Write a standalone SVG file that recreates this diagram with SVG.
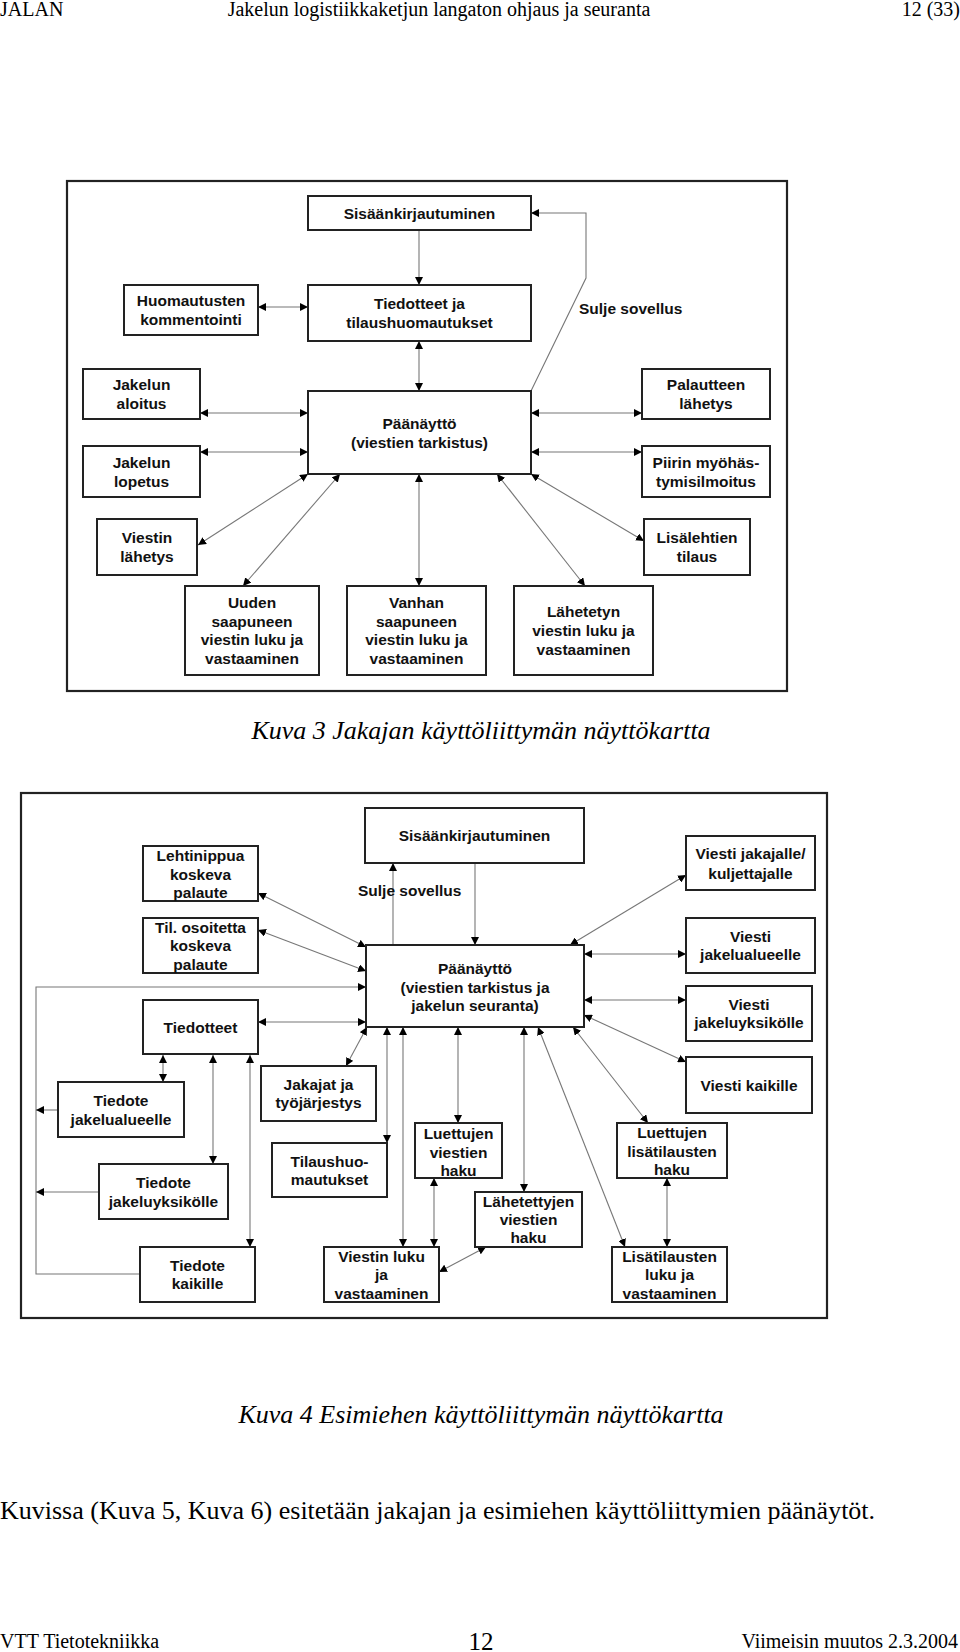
<svg xmlns="http://www.w3.org/2000/svg" width="960" height="1652" viewBox="0 0 960 1652">
<defs>
<marker id="ah" viewBox="0 0 8 8" refX="8" refY="4" markerWidth="8" markerHeight="8" markerUnits="userSpaceOnUse" orient="auto-start-reverse"><path d="M0,0 L8,4 L0,8 z" fill="#000"/></marker>
<style>
.bx{fill:#fff;stroke:#222;stroke-width:2}
.fr{fill:none;stroke:#222;stroke-width:2.2}
.t{font-family:"Liberation Sans",Arial,sans-serif;font-weight:bold;font-size:15.5px;fill:#111;text-anchor:middle}
.ts{text-anchor:start}
.c{fill:none;stroke:#777;stroke-width:1.1}
.b{marker-start:url(#ah);marker-end:url(#ah)}
.e{marker-end:url(#ah)}
.h{font-family:"Liberation Serif","Times New Roman",serif;font-size:20px;fill:#000}
.cap{font-family:"Liberation Serif","Times New Roman",serif;font-style:italic;font-size:26px;fill:#000;text-anchor:middle}
</style>
</defs>
<rect width="960" height="1652" fill="#fff"/>
<g id="header">
<text class="h" x="0" y="16">JALAN</text>
<text class="h" x="439" y="16" text-anchor="middle">Jakelun logistiikkaketjun langaton ohjaus ja seuranta</text>
<text class="h" x="960" y="16" text-anchor="end">12 (33)</text>
</g>
<rect class="fr" x="67" y="181" width="720" height="510"/>
<g id="connectors1">
<path class="c e" d="M419,230 V285"/>
<path class="c b" d="M258,307 H308"/>
<path class="c b" d="M419,341 V391"/>
<path class="c b" d="M200,413 H308"/>
<path class="c b" d="M200,452 H308"/>
<path class="c b" d="M531,413 H642"/>
<path class="c b" d="M531,452 H642"/>
<path class="c e" d="M531,391 L586,278 V213 H531"/>
<path class="c b" d="M308,474 L198,545"/>
<path class="c b" d="M340,474 L243,586"/>
<path class="c b" d="M419,474 V586"/>
<path class="c b" d="M497,474 L585,586"/>
<path class="c b" d="M531,474 L644,541"/>
</g>
<text class="t ts" x="579" y="314" style="text-anchor:start">Sulje sovellus</text>
<g id="n1-sisaan"><rect class="bx" x="308" y="196" width="223" height="34"/><text class="t" x="419.5" y="218.5">Sisäänkirjautuminen</text></g>
<g id="n1-huom"><rect class="bx" x="124" y="285" width="134" height="50"/><text class="t" x="191" y="305.5">Huomautusten</text><text class="t" x="191" y="324.5">kommentointi</text></g>
<g id="n1-tied"><rect class="bx" x="308" y="285" width="223" height="56"/><text class="t" x="419.5" y="308.5">Tiedotteet ja</text><text class="t" x="419.5" y="327.5">tilaushuomautukset</text></g>
<g id="n1-paa"><rect class="bx" x="308" y="391" width="223" height="83"/><text class="t" x="419.5" y="428.5">Päänäyttö</text><text class="t" x="419.5" y="447.5">(viestien tarkistus)</text></g>
<g id="n1-aloitus"><rect class="bx" x="83" y="369" width="117" height="50"/><text class="t" x="141.5" y="389.5">Jakelun</text><text class="t" x="141.5" y="408.5">aloitus</text></g>
<g id="n1-lopetus"><rect class="bx" x="83" y="446" width="117" height="51"/><text class="t" x="141.5" y="467.5">Jakelun</text><text class="t" x="141.5" y="486.5">lopetus</text></g>
<g id="n1-palaute"><rect class="bx" x="642" y="369" width="128" height="50"/><text class="t" x="706" y="389.5">Palautteen</text><text class="t" x="706" y="408.5">lähetys</text></g>
<g id="n1-piiri"><rect class="bx" x="642" y="446" width="128" height="51"/><text class="t" x="706" y="467.5">Piirin myöhäs-</text><text class="t" x="706" y="486.5">tymisilmoitus</text></g>
<g id="n1-viestin"><rect class="bx" x="97" y="519" width="100" height="56"/><text class="t" x="147" y="542.5">Viestin</text><text class="t" x="147" y="561.5">lähetys</text></g>
<g id="n1-lisa"><rect class="bx" x="644" y="519" width="106" height="56"/><text class="t" x="697" y="542.5">Lisälehtien</text><text class="t" x="697" y="561.5">tilaus</text></g>
<g id="n1-uuden"><rect class="bx" x="185" y="586" width="134" height="89"/><text class="t" x="252" y="607.5">Uuden</text><text class="t" x="252" y="626.5">saapuneen</text><text class="t" x="252" y="644.5">viestin luku ja</text><text class="t" x="252" y="663.5">vastaaminen</text></g>
<g id="n1-vanhan"><rect class="bx" x="347" y="586" width="139" height="89"/><text class="t" x="416.5" y="607.5">Vanhan</text><text class="t" x="416.5" y="626.5">saapuneen</text><text class="t" x="416.5" y="644.5">viestin luku ja</text><text class="t" x="416.5" y="663.5">vastaaminen</text></g>
<g id="n1-lahetetyn"><rect class="bx" x="514" y="586" width="139" height="89"/><text class="t" x="583.5" y="616.5">Lähetetyn</text><text class="t" x="583.5" y="635.5">viestin luku ja</text><text class="t" x="583.5" y="654.5">vastaaminen</text></g>
<text class="cap" x="481" y="739">Kuva 3 Jakajan käyttöliittymän näyttökartta</text>

<rect class="fr" x="21" y="793" width="806" height="525"/>
<g id="connectors2">
<path class="c e" d="M393,945 V863"/>
<path class="c e" d="M475,863 V945"/>
<path class="c b" d="M258,893 L366,947"/>
<path class="c b" d="M258,930 L366,971"/>
<path class="c e" d="M140,1274 H36 V987 H366"/>
<path class="c e" d="M58,1110 H36"/>
<path class="c e" d="M99,1192 H36"/>
<path class="c b" d="M258,1022 H366"/>
<path class="c b" d="M163,1055 V1082"/>
<path class="c b" d="M213,1055 V1164"/>
<path class="c b" d="M250,1055 V1247"/>
<path class="c b" d="M367,1027 L346,1066"/>
<path class="c b" d="M387,1027 V1143"/>
<path class="c b" d="M403,1027 V1247"/>
<path class="c b" d="M458,1027 V1123"/>
<path class="c b" d="M434,1178 V1247"/>
<path class="c b" d="M524,1027 V1192"/>
<path class="c b" d="M486,1247 L439,1272"/>
<path class="c b" d="M538,1027 L625,1247"/>
<path class="c b" d="M573,1027 L648,1123"/>
<path class="c b" d="M667,1178 V1247"/>
<path class="c b" d="M584,1015 L686,1062"/>
<path class="c b" d="M570,945 L686,875"/>
<path class="c b" d="M584,954 H686"/>
<path class="c b" d="M584,1000 H686"/>
</g>
<text class="t ts" x="358" y="895.5" style="text-anchor:start">Sulje sovellus</text>
<g id="n2-sisaan"><rect class="bx" x="365" y="808" width="219" height="55"/><text class="t" x="474.5" y="840.5">Sisäänkirjautuminen</text></g>
<g id="n2-paa"><rect class="bx" x="366" y="945" width="218" height="82"/><text class="t" x="475" y="973.5">Päänäyttö</text><text class="t" x="475" y="992.5">(viestien tarkistus ja</text><text class="t" x="475" y="1010.5">jakelun seuranta)</text></g>
<g id="n2-lehti"><rect class="bx" x="143" y="846" width="115" height="55"/><text class="t" x="200.5" y="860.5">Lehtinippua</text><text class="t" x="200.5" y="879.5">koskeva</text><text class="t" x="200.5" y="897.5">palaute</text></g>
<g id="n2-til"><rect class="bx" x="143" y="918" width="115" height="55"/><text class="t" x="200.5" y="932.5">Til. osoitetta</text><text class="t" x="200.5" y="950.5">koskeva</text><text class="t" x="200.5" y="969.5">palaute</text></g>
<g id="n2-tiedotteet"><rect class="bx" x="143" y="1000" width="115" height="54"/><text class="t" x="200.5" y="1032.5">Tiedotteet</text></g>
<g id="n2-vjakajalle"><rect class="bx" x="686" y="836" width="129" height="54"/><text class="t" x="750.5" y="858.5">Viesti jakajalle/</text><text class="t" x="750.5" y="878.5">kuljettajalle</text></g>
<g id="n2-vjakelualue"><rect class="bx" x="686" y="918" width="129" height="55"/><text class="t" x="750.5" y="941.5">Viesti</text><text class="t" x="750.5" y="959.5">jakelualueelle</text></g>
<g id="n2-vjakeluyks"><rect class="bx" x="686" y="986" width="126" height="55"/><text class="t" x="749" y="1009.5">Viesti</text><text class="t" x="749" y="1027.5">jakeluyksikölle</text></g>
<g id="n2-vkaikille"><rect class="bx" x="686" y="1057" width="126" height="56"/><text class="t" x="749" y="1090.5">Viesti kaikille</text></g>
<g id="n2-tjakelualue"><rect class="bx" x="58" y="1082" width="126" height="55"/><text class="t" x="121" y="1105.5">Tiedote</text><text class="t" x="121" y="1124.5">jakelualueelle</text></g>
<g id="n2-tjakeluyks"><rect class="bx" x="99" y="1164" width="129" height="55"/><text class="t" x="163.5" y="1187.5">Tiedote</text><text class="t" x="163.5" y="1206.5">jakeluyksikölle</text></g>
<g id="n2-tkaikille"><rect class="bx" x="140" y="1247" width="115" height="55"/><text class="t" x="197.5" y="1270.5">Tiedote</text><text class="t" x="197.5" y="1288.5">kaikille</text></g>
<g id="n2-jakajat"><rect class="bx" x="261" y="1066" width="115" height="55"/><text class="t" x="318.5" y="1089.5">Jakajat ja</text><text class="t" x="318.5" y="1107.5">työjärjestys</text></g>
<g id="n2-tilaushuo"><rect class="bx" x="272" y="1143" width="115" height="54"/><text class="t" x="329.5" y="1166.5">Tilaushuo-</text><text class="t" x="329.5" y="1184.5">mautukset</text></g>
<g id="n2-viestinluku"><rect class="bx" x="324" y="1247" width="115" height="55"/><text class="t" x="381.5" y="1261.5">Viestin luku</text><text class="t" x="381.5" y="1279.5">ja</text><text class="t" x="381.5" y="1298.5">vastaaminen</text></g>
<g id="n2-luettujen"><rect class="bx" x="415" y="1123" width="87" height="55"/><text class="t" x="458.5" y="1138.5">Luettujen</text><text class="t" x="458.5" y="1157.5">viestien</text><text class="t" x="458.5" y="1175.5">haku</text></g>
<g id="n2-lahetettyjen"><rect class="bx" x="475" y="1192" width="107" height="55"/><text class="t" x="528.5" y="1206.5">Lähetettyjen</text><text class="t" x="528.5" y="1224.5">viestien</text><text class="t" x="528.5" y="1242.5">haku</text></g>
<g id="n2-luettujenlisa"><rect class="bx" x="617" y="1123" width="110" height="55"/><text class="t" x="672" y="1137.5">Luettujen</text><text class="t" x="672" y="1156.5">lisätilausten</text><text class="t" x="672" y="1174.5">haku</text></g>
<g id="n2-lisaluku"><rect class="bx" x="612" y="1247" width="115" height="55"/><text class="t" x="669.5" y="1261.5">Lisätilausten</text><text class="t" x="669.5" y="1279.5">luku ja</text><text class="t" x="669.5" y="1298.5">vastaaminen</text></g>
<text class="cap" x="481" y="1423">Kuva 4 Esimiehen käyttöliittymän näyttökartta</text>
<text class="h" x="0" y="1519" style="font-size:26px">Kuvissa (Kuva 5, Kuva 6) esitetään jakajan ja esimiehen käyttöliittymien päänäytöt.</text>
<g id="footer">
<text class="h" x="0" y="1648">VTT Tietotekniikka</text>
<text class="h" x="481" y="1650" text-anchor="middle" style="font-size:25px">12</text>
<text class="h" x="958" y="1648" text-anchor="end">Viimeisin muutos  2.3.2004</text>
</g>
</svg>
